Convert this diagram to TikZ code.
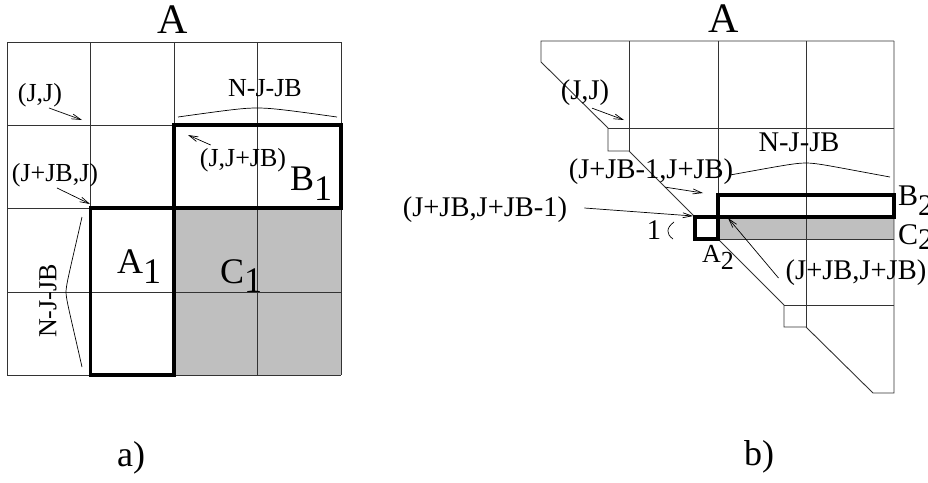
\documentclass[tikz,border=0pt]{standalone}
\usepackage{fontspec}
\setmainfont{Liberation Serif}
\usetikzlibrary{arrows.meta,calc}
\definecolor{blockgray}{gray}{0.75}
\tikzset{
  thinline/.style={line width=0.9pt, draw=black!80},
  thickbox/.style={line width=3.4pt, draw=black},
  arr/.style={-{Straight Barb[length=9pt,width=5pt]}, line width=0.7pt},
  brace/.style={line width=0.7pt},
  lblL/.style={inner sep=0pt, font=\fontsize{26}{30}\selectfont},
  lblR/.style={inner sep=0pt, font=\fontsize{28.5}{34}\selectfont},
  title/.style={inner sep=0pt, font=\fontsize{42}{48}\selectfont},
  big/.style={inner sep=0pt, anchor=base west, font=\fontsize{36}{42}\selectfont},
  mid/.style={inner sep=0pt, anchor=base west, font=\fontsize{30}{36}\selectfont},
  small/.style={inner sep=0pt, anchor=base west, font=\fontsize{26}{30}\selectfont},
  caption/.style={inner sep=0pt, font=\fontsize{36}{42}\selectfont}
}
\begin{document}
\begin{tikzpicture}[x=1pt,y=-1pt]
\useasboundingbox (0,0) rectangle (928,482);
% ---------------- panel a ----------------
\fill[blockgray] (174,208) rectangle (341,375);
\foreach \v in {7,90.5,174,257.5,341} {
  \draw[thinline] (\v,42) -- (\v,375);
}
\foreach \h in {42,125,208.5,292,375} {
  \draw[thinline] (7,\h) -- (341,\h);
}
\draw[thickbox] (174,125) rectangle (341,208);
\draw[thickbox] (90.5,208) rectangle (174,375);

\node[title] (tA) at (173,20) {A};
\node[lblL] (lJJ) at (40,95) {(J,J)};
\coordinate (pJJ) at (82,120);
\draw[arr] ([shift={(9,1)}]lJJ.south) -- (pJJ);

\node[lblL] (lNtop) at (265,88) {N-J-JB};
\draw[brace] (178,117) .. controls (235,109) and (245,108) .. (257,108)
             .. controls (269,108) and (280,109) .. (337,117);

\node[lblL] (lJJJB) at (243,160) {(J,J+JB)};
\coordinate (pJJJB) at (188,135);
\draw[arr] ([shift={(11,-3)}]lJJJB.north west) -- (pJJJB);

\node[big] (B1) at (290,190) {B\raisebox{-10pt}{1}};

\node[lblL] (lJJBJ) at (55,175) {(J+JB,J)};
\coordinate (pJJBJ) at (90,204);
\draw[arr] ([shift={(2,1)}]lJJBJ.south) -- (pJJBJ);

\node[big] (A1) at (117,273) {A\raisebox{-10pt}{1}};
\node[big] (C1) at (220,283) {C\raisebox{-9pt}{1}};

\node[lblL, rotate=90] (lNleft) at (48,301) {N-J-JB};
\draw[brace] (82,217) .. controls (70,270) and (66,285) .. (66,292)
             .. controls (66,299) and (70,314) .. (82,367);

\node[caption] (capa) at (131,458) {a)};

% ---------------- panel b ----------------
\fill[blockgray] (718,217) rectangle (894,239);
\draw[thinline] (718,239) -- (894,239);
% outline of band
\draw[thinline] (894,41) -- (541,41) -- (541,62) -- (608,128) -- (608,151) -- (629,151) -- (695,217);
\draw[thinline] (718,239) -- (784,305) -- (784,327) -- (806,327) -- (873,393) -- (894,393) -- (894,41);
% inner lines
\draw[thinline] (608,128) -- (894,128);
\draw[thinline] (784,305) -- (894,305);
\draw[thinline] (629,41) -- (629,151);
\draw[thinline] (718,41) -- (718,195);
\draw[thinline] (806,41) -- (806,327);
% blocks
\draw[thickbox] (718,195) rectangle (894,217);
\draw[thickbox] (695,217) rectangle (718,239);

\node[title] (tB) at (724,19) {A};
\node[lblR] (rJJ) at (585,93) {(J,J)};
\coordinate (qJJ) at (624,120);
\draw[arr] ([shift={(7,2)}]rJJ.south) -- (qJJ);

\node[lblR] (rN) at (799,142) {N-J-JB};
\draw[brace] (730,175) .. controls (780,166) and (795,163) .. (806,163)
             .. controls (817,163) and (830,166) .. (890,177);

\node[lblR] (rJB1) at (651,172) {(J+JB-1,J+JB)};
\coordinate (qJB1) at (703,193);
\draw[arr] ([shift={(14,2)}]rJB1.south) -- (qJB1);

\node[lblR] (rJJBm) at (485,210) {(J+JB,J+JB-1)};
\coordinate (qJJBm) at (693,216);
\draw[arr] ([shift={(17,-2)}]rJJBm.east) -- (qJJBm);

\node[lblR] (rOne) at (654,230) {1};
\draw[brace] (674,222) .. controls (666,228) and (666,234) .. (673,239);

\node[small] (A2) at (702,262) {A\raisebox{-7pt}{2}};
\node[mid] (B2) at (898,205) {B\raisebox{-10pt}{2}};
\node[mid] (C2) at (898,244) {C\raisebox{-5pt}{2}};

\node[lblR] (rJJB) at (856,273) {(J+JB,J+JB)};
\coordinate (qJJB) at (728,218);
\draw[arr] ([shift={(-7,5)}]rJJB.west) -- (qJJB);

\node[caption] (capb) at (759,457) {b)};
\end{tikzpicture}
\end{document}
